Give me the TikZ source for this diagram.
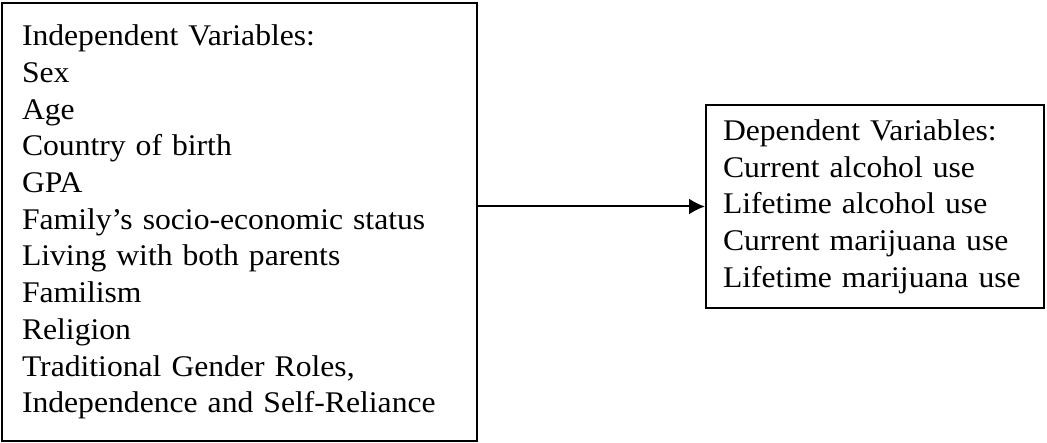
\documentclass[tikz,border=0pt]{standalone}
\usepackage{fontspec}
\setmainfont[FakeStretch=1.055]{Liberation Serif}
\usetikzlibrary{arrows.meta}

\begin{document}
\begin{tikzpicture}[
			x = 1pt, y = -1pt,
			varbox/.style = {draw, line width = 2pt, align = left, inner ysep = 0pt,
				font = \fontsize{30}{36.7}\selectfont}
			]

			\useasboundingbox (0,0) rectangle (1047,443);

			\node[varbox, inner xsep = 20pt, text width = 435pt, minimum height = 438pt] (indep) at (239.5,222)
				{Independent Variables:\\ Sex\\ Age\\ Country of birth\\ GPA\\
				 Family’s socio-economic status\\ Living with both parents\\ Familism\\ Religion\\
				 Traditional Gender Roles,\\ Independence and Self-Reliance};

			\node[varbox, inner xsep = 17pt, text width = 304pt, minimum height = 203pt] (dep) at (875,206.5)
				{Dependent Variables:\\ Current alcohol use\\ Lifetime alcohol use\\
				 Current marijuana use\\ Lifetime marijuana use};

			\draw[-{Latex[length=16pt,width=16pt]}, line width = 2pt] (indep.east |- dep.west) -- (dep.west);

		\end{tikzpicture}
\end{document}
